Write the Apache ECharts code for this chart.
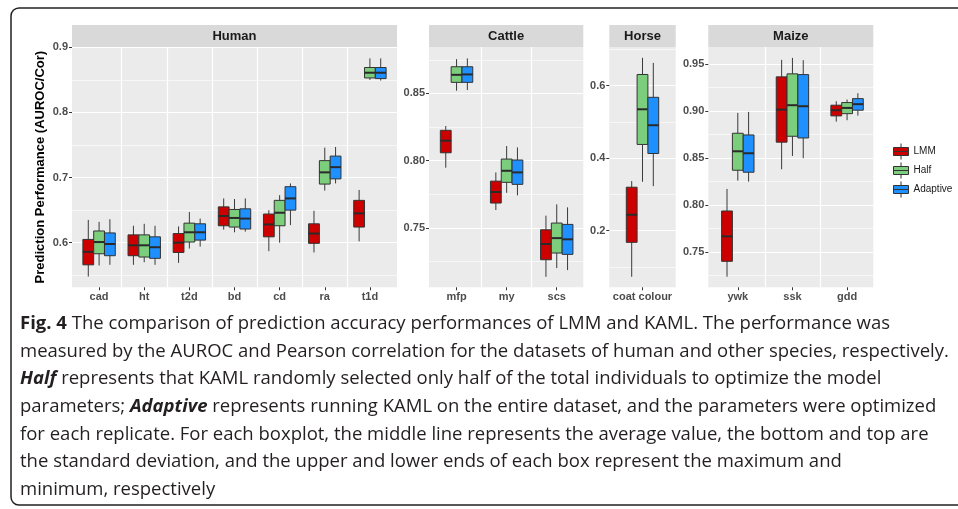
<!DOCTYPE html>
<html>
<head>
    <meta charset="utf-8">
    <script src="https://cdn.jsdelivr.net/npm/echarts@6/dist/echarts.min.js"></script>
    <style>
        html, body { margin: 0; padding: 0; background: #fff; }
        #main { width: 958px; height: 509px; }
    </style>
</head>
<body>
<div id="main"></div>
<script type="text/javascript">
    // each row: [min, lower sd, mean, upper sd, max]
    var groups = ['LMM', 'Half', 'Adaptive'];
    var colors = ['#CD0000', '#7CCD7C', '#1E90FF'];

    var humanCats = ['cad', 'ht', 't2d', 'bd', 'cd', 'ra', 't1d'];
    var humanLMM = [
        [0.548, 0.566, 0.586, 0.605, 0.635], [0.566, 0.580, 0.596, 0.612, 0.626],
        [0.569, 0.585, 0.600, 0.614, 0.625], [0.620, 0.626, 0.641, 0.655, 0.668],
        [0.587, 0.609, 0.628, 0.644, 0.650], [0.585, 0.599, 0.614, 0.629, 0.649],
        [0.602, 0.624, 0.645, 0.665, 0.681]
    ];
    var humanHalf = [
        [0.565, 0.583, 0.601, 0.618, 0.632], [0.570, 0.578, 0.596, 0.612, 0.629],
        [0.591, 0.601, 0.616, 0.630, 0.647], [0.616, 0.624, 0.638, 0.651, 0.667],
        [0.600, 0.626, 0.646, 0.665, 0.673], [0.680, 0.690, 0.708, 0.726, 0.746],
        [0.850, 0.853, 0.861, 0.869, 0.883]
    ];
    var humanAdaptive = [
        [0.566, 0.580, 0.598, 0.615, 0.636], [0.566, 0.576, 0.593, 0.609, 0.626],
        [0.594, 0.604, 0.616, 0.629, 0.637], [0.617, 0.621, 0.637, 0.652, 0.668],
        [0.627, 0.650, 0.668, 0.686, 0.691], [0.691, 0.698, 0.716, 0.733, 0.747],
        [0.849, 0.852, 0.861, 0.869, 0.883]
    ];
    var humanTicks = [0.6, 0.7, 0.8, 0.9];
    var humanMinor = [0.55, 0.65, 0.75, 0.85];

    var cattleCats = ['mfp', 'my', 'scs'];
    var cattleLMM = [
        [0.7947, 0.8058, 0.8148, 0.8225, 0.8257],
        [0.7632, 0.7684, 0.7766, 0.7847, 0.7912],
        [0.7135, 0.7262, 0.7379, 0.7485, 0.7590]
    ];
    var cattleHalf = [
        [0.8520, 0.8582, 0.8638, 0.8698, 0.8755],
        [0.7760, 0.7838, 0.7924, 0.8011, 0.8108],
        [0.7200, 0.7312, 0.7423, 0.7535, 0.7674]
    ];
    var cattleAdaptive = [
        [0.8525, 0.8582, 0.8641, 0.8698, 0.8760],
        [0.7741, 0.7823, 0.7912, 0.8004, 0.8098],
        [0.7185, 0.7302, 0.7414, 0.7525, 0.7652]
    ];
    var cattleTicks = [0.75, 0.80, 0.85];
    var cattleMinor = [0.725, 0.775, 0.825, 0.875];

    var horseCats = ['coat colour'];
    var horseLMM = [[0.073, 0.168, 0.244, 0.320, 0.337]];
    var horseHalf = [[0.335, 0.438, 0.535, 0.631, 0.677]];
    var horseAdaptive = [[0.323, 0.413, 0.491, 0.568, 0.663]];
    var horseTicks = [0.2, 0.4, 0.6];
    var horseMinor = [0.1, 0.3, 0.5, 0.7];

    var maizeCats = ['ywk', 'ssk', 'gdd'];
    var maizeLMM = [
        [0.7237, 0.7401, 0.7667, 0.7937, 0.8172],
        [0.8382, 0.8670, 0.9017, 0.9366, 0.9547],
        [0.8889, 0.8950, 0.9011, 0.9064, 0.9107]
    ];
    var maizeHalf = [
        [0.8260, 0.8371, 0.8573, 0.8765, 0.8982],
        [0.8523, 0.8733, 0.9064, 0.9398, 0.9568],
        [0.8904, 0.8974, 0.9035, 0.9092, 0.9124]
    ];
    var maizeAdaptive = [
        [0.8250, 0.8350, 0.8552, 0.8747, 0.8993],
        [0.8499, 0.8715, 0.9053, 0.9390, 0.9544],
        [0.8953, 0.9011, 0.9075, 0.9134, 0.9192]
    ];
    var maizeTicks = [0.75, 0.80, 0.85, 0.90, 0.95];
    var maizeMinor = [0.725, 0.775, 0.825, 0.875, 0.925];

    var captionLines = [
        '{b|Fig. 4} The comparison of prediction accuracy performances of LMM and KAML. The performance was',
        'measured by the AUROC and Pearson correlation for the datasets of human and other species, respectively.',
        '{bi|Half} represents that KAML randomly selected only half of the total individuals to optimize the model',
        'parameters; {bi|Adaptive} represents running KAML on the entire dataset, and the parameters were optimized',
        'for each replicate. For each boxplot, the middle line represents the average value, the bottom and top are',
        'the standard deviation, and the upper and lower ends of each box represent the maximum and',
        'minimum, respectively'
    ];

    var panels = [
        {name: 'Human', cats: humanCats, rows: [humanLMM, humanHalf, humanAdaptive], ticks: humanTicks, minor: humanMinor,
            digits: 1, left: 72, width: 325, xMin: -0.6, xMax: 6.6, yMin: 0.5315, yMax: 0.9005},
        {name: 'Cattle', cats: cattleCats, rows: [cattleLMM, cattleHalf, cattleAdaptive], ticks: cattleTicks, minor: cattleMinor,
            digits: 2, left: 429, width: 154.3, xMin: -0.55, xMax: 2.53, yMin: 0.7057, yMax: 0.8845},
        {name: 'Horse', cats: horseCats, rows: [horseLMM, horseHalf, horseAdaptive], ticks: horseTicks, minor: horseMinor,
            digits: 1, left: 609.3, width: 66.4, xMin: -0.6, xMax: 0.6, yMin: 0.0439, yMax: 0.7068},
        {name: 'Maize', cats: maizeCats, rows: [maizeLMM, maizeHalf, maizeAdaptive], ticks: maizeTicks, minor: maizeMinor,
            digits: 2, left: 708.3, width: 165, xMin: -0.54, xMax: 2.48, yMin: 0.7124, yMax: 0.9684}
    ];

    var PANEL_TOP = 47, PANEL_H = 240.3, BOX_W = 10.8;
    var labelFont = 'Liberation Sans';
    var capFont = 'Open Sans', capSize = 18.5;
    // little boxplot glyph for the legend keys
    var keyIcon = 'path://M0,4L15,4L15,12L0,12Z M7.5,0L7.5,4 M7.5,12L7.5,16 M0,8L15,8';

    function boxRenderer(offset) {
        return function (params, api) {
            var x = api.value(0);
            var pMin = api.coord([x, api.value(1)]);
            var pLo = api.coord([x, api.value(2)]);
            var pMid = api.coord([x, api.value(3)]);
            var pHi = api.coord([x, api.value(4)]);
            var pMax = api.coord([x, api.value(5)]);
            var cx = pMid[0] + offset * BOX_W;
            var h = BOX_W / 2;
            return {
                type: 'group',
                children: [
                    {type: 'line', shape: {x1: cx, y1: pMax[1], x2: cx, y2: pMin[1]},
                        style: {stroke: '#3a3a3a', lineWidth: 1}},
                    {type: 'rect', shape: {x: cx - h, y: pHi[1], width: BOX_W, height: pLo[1] - pHi[1]},
                        style: {fill: api.visual('color'), stroke: '#333', lineWidth: 1}},
                    {type: 'line', shape: {x1: cx - h, y1: pMid[1], x2: cx + h, y2: pMid[1]},
                        style: {stroke: '#2a2a2a', lineWidth: 2}}
                ]
            };
        };
    }

    var grid = [], xAxis = [], yAxis = [], series = [], graphic = [];

    panels.forEach(function (p, i) {
        grid.push({left: p.left, top: PANEL_TOP, width: p.width, height: PANEL_H,
            show: true, backgroundColor: '#EBEBEB', borderWidth: 0});

        var catIdx = p.cats.map(function (c, k) { return k; });
        var seps = p.cats.slice(1).map(function (c, k) { return k + 0.5; });

        // axis with the category labels
        xAxis.push({
            type: 'value', gridIndex: i, min: p.xMin, max: p.xMax, position: 'bottom',
            axisLine: {show: false, onZero: false},
            axisTick: {show: true, length: 3, customValues: catIdx, lineStyle: {color: '#333'}},
            axisLabel: {customValues: catIdx, margin: 4, color: '#4D4D4D', fontWeight: 'bold', fontSize: 11,
                fontFamily: labelFont, formatter: function (v) { return p.cats[Math.round(v)]; }},
            splitLine: {show: false}
        });
        // hidden axis only drawing the white separators between categories
        xAxis.push({
            type: 'value', gridIndex: i, min: p.xMin, max: p.xMax, position: 'top',
            axisLine: {show: false, onZero: false},
            axisTick: {show: false, customValues: seps.length ? seps : [p.xMax + 1]},
            axisLabel: {show: false},
            splitLine: {show: seps.length > 0, lineStyle: {color: '#fff', width: 1.2}}
        });

        yAxis.push({
            type: 'value', gridIndex: i, min: p.yMin, max: p.yMax, position: 'left',
            name: i === 0 ? 'Prediction Performance (AUROC/Cor)' : '',
            nameLocation: 'middle', nameGap: 25,
            nameTextStyle: {fontWeight: 'bold', fontSize: 13, color: '#000', fontFamily: labelFont},
            axisLine: {show: false, onZero: false},
            axisTick: {show: true, length: 3, customValues: p.ticks, lineStyle: {color: '#333'}},
            axisLabel: {customValues: p.ticks, margin: 4, color: '#4D4D4D', fontWeight: 'bold', fontSize: 11,
                fontFamily: labelFont, formatter: function (v) { return v.toFixed(p.digits); }},
            splitLine: {show: true, lineStyle: {color: '#fff', width: 1.2}}
        });
        yAxis.push({
            type: 'value', gridIndex: i, min: p.yMin, max: p.yMax, position: 'right',
            axisLine: {show: false, onZero: false},
            axisTick: {show: false, customValues: p.minor},
            axisLabel: {show: false},
            splitLine: {show: true, lineStyle: {color: '#fff', width: 0.6}}
        });

        groups.forEach(function (g, gi) {
            series.push({
                type: 'custom', name: g, xAxisIndex: 2 * i, yAxisIndex: 2 * i,
                itemStyle: {color: colors[gi]},
                renderItem: boxRenderer(gi - 1),
                encode: {x: 0, y: [1, 2, 3, 4, 5]},
                data: p.rows[gi].map(function (r, k) { return [k].concat(r); })
            });
        });

        graphic.push({
            type: 'rect', shape: {x: p.left, y: 25, width: p.width, height: 22},
            style: {fill: '#D9D9D9'}, silent: true,
            textContent: {style: {text: p.name, fontSize: 13, fontWeight: 'bold', fontFamily: labelFont, fill: '#1A1A1A'}},
            textConfig: {position: 'inside'}
        });
    });

    // outer frame of the figure
    graphic.push({
        type: 'rect', shape: {x: 11, y: 8, width: 975, height: 497, r: 8},
        style: {fill: 'none', stroke: '#222', lineWidth: 1.5}, silent: true
    });

    captionLines.forEach(function (t, k) {
        graphic.push({
            type: 'text', x: 20, y: 324 + k * 27.6, silent: true,
            style: {
                text: t, fontSize: capSize, fontFamily: capFont, fill: '#231F20', verticalAlign: 'middle',
                rich: {
                    b: {fontWeight: 'bold', fontSize: capSize, fontFamily: capFont, fill: '#231F20'},
                    bi: {fontWeight: 'bold', fontStyle: 'italic', fontSize: capSize, fontFamily: capFont, fill: '#231F20'}
                }
            }
        });
    });

    var myChart = echarts.init(document.getElementById('main'));
    myChart.setOption({
        animation: false,
        backgroundColor: '#fff',
        legend: {
            orient: 'vertical', left: 888, top: 138, itemWidth: 15, itemHeight: 16, itemGap: 2,
            icon: keyIcon, data: groups,
            itemStyle: {borderColor: '#333', borderWidth: 1},
            textStyle: {fontSize: 10, color: '#1A1A1A', fontFamily: labelFont}
        },
        grid: grid,
        xAxis: xAxis,
        yAxis: yAxis,
        series: series,
        graphic: graphic
    });
</script>
</body>
</html>
